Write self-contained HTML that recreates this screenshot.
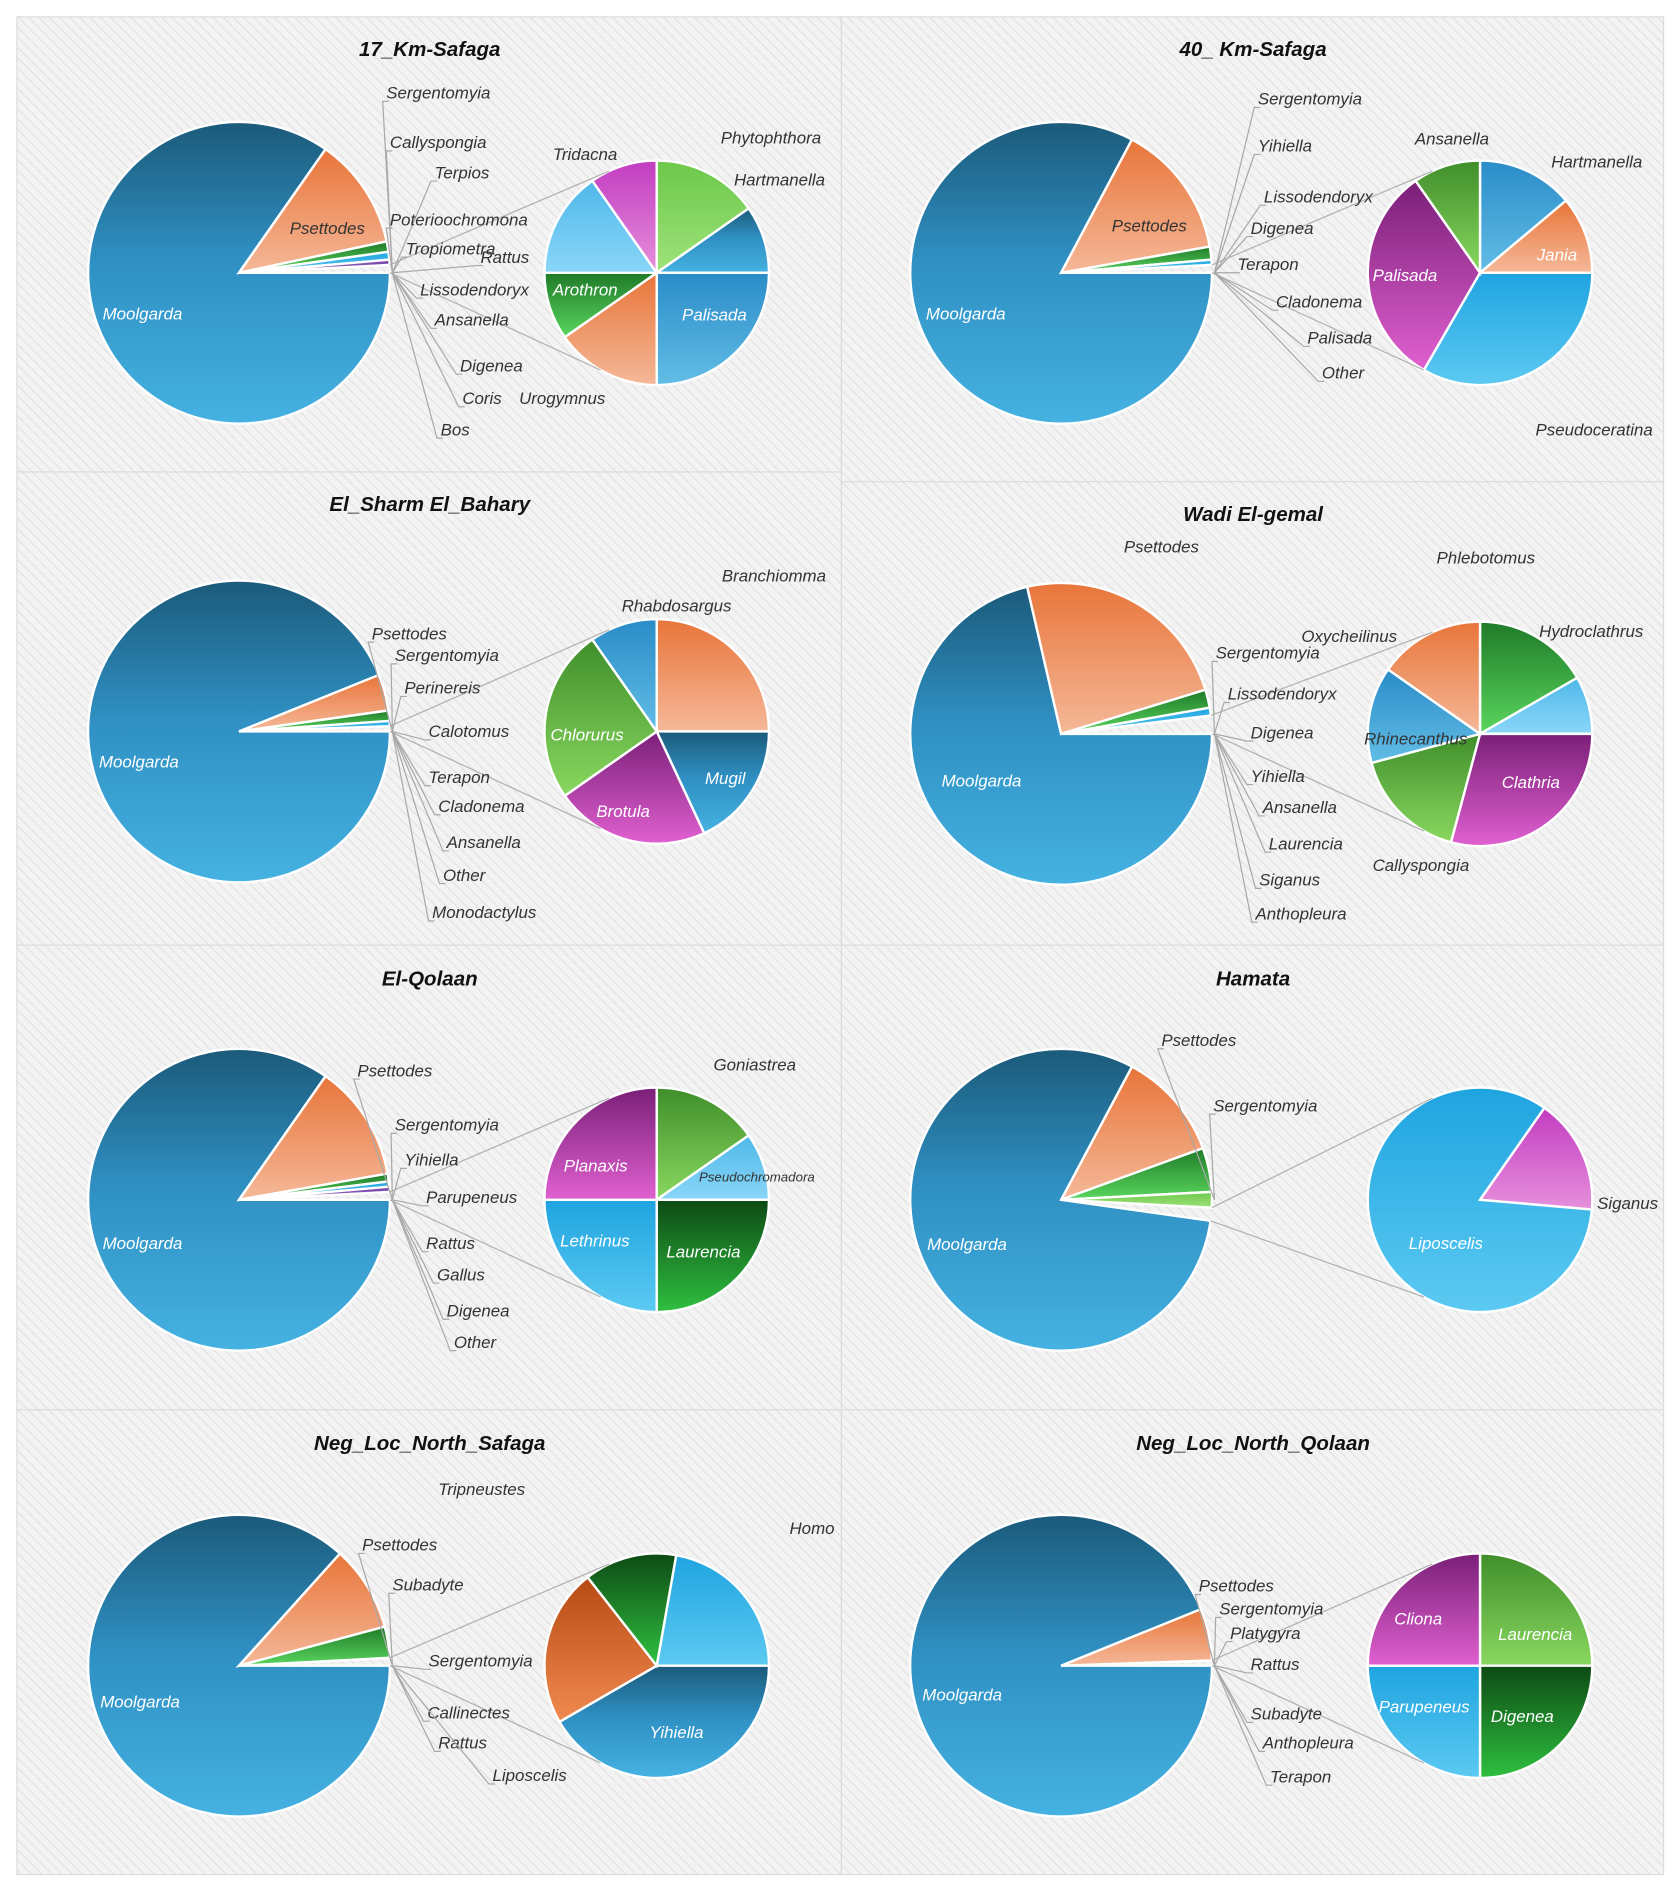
<!DOCTYPE html>
<html><head><meta charset="utf-8"><style>
html,body{margin:0;padding:0;background:#fff;}
svg{display:block;}
text{font-family:"Liberation Sans",sans-serif;font-style:italic;}
</style></head><body>
<svg id="chart" width="1678" height="1889" viewBox="0 0 1390 1565" preserveAspectRatio="none" xmlns="http://www.w3.org/2000/svg">
<defs>
<pattern id="hatch" width="6" height="6" patternUnits="userSpaceOnUse" patternTransform="rotate(-45)">
<rect width="6" height="6" fill="#f3f3f3"/><line x1="0" y1="0" x2="0" y2="6" stroke="#e2e2e2" stroke-width="2"/>
</pattern>
<linearGradient id="g-blue" x1="0" y1="0" x2="0" y2="1"><stop offset="0" stop-color="#1b5a7a"/><stop offset="0.45" stop-color="#2f8fc2"/><stop offset="1" stop-color="#45b2e2"/></linearGradient>
<linearGradient id="g-blue2" x1="0" y1="0" x2="0" y2="1"><stop offset="0" stop-color="#2a8cc8"/><stop offset="1" stop-color="#62bde6"/></linearGradient>
<linearGradient id="g-sky" x1="0" y1="0" x2="0" y2="1"><stop offset="0" stop-color="#1fa4e0"/><stop offset="1" stop-color="#5ccaf2"/></linearGradient>
<linearGradient id="g-light" x1="0" y1="0" x2="0" y2="1"><stop offset="0" stop-color="#4fb8ea"/><stop offset="1" stop-color="#8ad6f8"/></linearGradient>
<linearGradient id="g-salmon" x1="0" y1="0" x2="0" y2="1"><stop offset="0" stop-color="#e8753a"/><stop offset="1" stop-color="#f5b898"/></linearGradient>
<linearGradient id="g-orange" x1="0" y1="0" x2="0" y2="1"><stop offset="0" stop-color="#b84a14"/><stop offset="1" stop-color="#f08a50"/></linearGradient>
<linearGradient id="g-green" x1="0" y1="0" x2="0" y2="1"><stop offset="0" stop-color="#1f7a28"/><stop offset="1" stop-color="#5ad65e"/></linearGradient>
<linearGradient id="g-dgreen" x1="0" y1="0" x2="0" y2="1"><stop offset="0" stop-color="#0d4a14"/><stop offset="1" stop-color="#2fc040"/></linearGradient>
<linearGradient id="g-lgreen" x1="0" y1="0" x2="0" y2="1"><stop offset="0" stop-color="#3f8e2a"/><stop offset="1" stop-color="#8ad860"/></linearGradient>
<linearGradient id="g-mint" x1="0" y1="0" x2="0" y2="1"><stop offset="0" stop-color="#6cc84a"/><stop offset="1" stop-color="#9ee27a"/></linearGradient>
<linearGradient id="g-mag" x1="0" y1="0" x2="0" y2="1"><stop offset="0" stop-color="#7a1f78"/><stop offset="1" stop-color="#e060d0"/></linearGradient>
<linearGradient id="g-pink" x1="0" y1="0" x2="0" y2="1"><stop offset="0" stop-color="#c23cc0"/><stop offset="1" stop-color="#e690dc"/></linearGradient>
<linearGradient id="g-purple" x1="0" y1="0" x2="0" y2="1"><stop offset="0" stop-color="#7040a0"/><stop offset="1" stop-color="#a070d0"/></linearGradient>
</defs>
<rect x="0" y="0" width="1390" height="1565" fill="#fff"/>
<g id="panels"></g>
</svg>
<script>
// ---- data (values in degrees-equivalent shares) ----
const km17BigCats = ["Moolgarda","Psettodes","Sergentomyia","Callyspongia","Terpios","Other"];
const km17BigVals = [305,43,4,3,2,3];
const km17SecCats = ["Phytophthora","Hartmanella","Palisada","Urogymnus","Arothron","Poterioochromona","Tridacna"];
const km17SecVals = [55,35,90,55,35,55,35];

const km40BigCats = ["Moolgarda","Psettodes","Sergentomyia","Yihiella","Other"];
const km40BigVals = [298,52,5,2,3];
const km40SecCats = ["Hartmanella","Jania","Pseudoceratina","Palisada","Ansanella"];
const km40SecVals = [50,40,120,115,35];

const sharmBigCats = ["Moolgarda","Psettodes","Sergentomyia","Perinereis","Other"];
const sharmBigVals = [338,14,4,2,2];
const sharmSecCats = ["Branchiomma","Mugil","Brotula","Chlorurus","Rhabdosargus"];
const sharmSecVals = [90,65,80,90,35];

const wadiBigCats = ["Moolgarda","Psettodes","Sergentomyia","Lissodendoryx","Other"];
const wadiBigVals = [257,86,7,3,7];
const wadiSecCats = ["Phlebotomus","Hydroclathrus","Clathria","Callyspongia","Rhinecanthus","Oxycheilinus"];
const wadiSecVals = [60,30,105,60,50,55];

const qolBigCats = ["Moolgarda","Psettodes","Sergentomyia","Yihiella","Parupeneus","Other"];
const qolBigVals = [305,45,3,2,2,3];
const qolSecCats = ["Goniastrea","Pseudochromadora","Laurencia","Lethrinus","Planaxis"];
const qolSecVals = [55,35,90,90,90];

const hamBigCats = ["Psettodes","Sergentomyia","Other-green","Other","Moolgarda"];
const hamBigVals = [42,17,6,5,290];
const hamSecCats = ["Siganus","Liposcelis"];
const hamSecVals = [60,300];

const nsBigCats = ["Moolgarda","Psettodes","Subadyte","Other"];
const nsBigVals = [312,33,12,3];
const nsSecCats = ["Homo","Yihiella","Sergentomyia","Tripneustes"];
const nsSecVals = [80,150,82,48];

const nqBigCats = ["Moolgarda","Psettodes","Other"];
const nqBigVals = [338,20,2];
const nqSecCats = ["Laurencia","Digenea","Parupeneus","Cliona"];
const nqSecVals = [90,90,90,90];

// ---- panel layout ----
const panels = [
 {name:"17_Km-Safaga", x:14,y:14,w:683,h:377, tx:356,ty:42, big:[198,226,125], bigStart:0, bc:km17BigCats, bv:km17BigVals,
  bcol:["g-blue","g-salmon","g-green","g-sky","g-purple",null],
  sec:[544,226,93], secStart:-90, sc:km17SecCats, sv:km17SecVals, scol:["g-mint","g-blue","g-blue2","g-salmon","g-green","g-light","g-pink"],
  inner:[["Psettodes",240,190,"#333"],["Moolgarda",85,261,"#fff"],["Arothron",458,241,"#fff"],["Palisada",565,262,"#fff"]],
  outer:[["Sergentomyia",320,78],["Callyspongia",323,119],["Terpios",360,144],["Poterioochromona",323,183],["Tropiometra",336,207],["Rattus",398,214],["Lissodendoryx",348,241],["Ansanella",360,266],["Digenea",381,304],["Coris",383,331],["Bos",365,357]],
  free:[["Urogymnus",430,331],["Tridacna",458,129],["Phytophthora",597,115],["Hartmanella",608,150]]},
 {name:"40_ Km-Safaga", x:697,y:14,w:681,h:385, tx:1038,ty:42, big:[879,226,125], bigStart:0, bc:km40BigCats, bv:km40BigVals,
  bcol:["g-blue","g-salmon","g-green","g-sky",null],
  sec:[1226,226,93], secStart:-90, sc:km40SecCats, sv:km40SecVals, scol:["g-blue2","g-salmon","g-sky","g-mag","g-lgreen"],
  inner:[["Psettodes",921,188,"#333"],["Moolgarda",767,261,"#fff"],["Jania",1273,212,"#fff"],["Palisada",1137,229,"#fff"]],
  outer:[["Sergentomyia",1042,83],["Yihiella",1042,122],["Lissodendoryx",1047,164],["Digenea",1036,190],["Terapon",1025,220],["Cladonema",1057,251],["Palisada",1083,281],["Other",1095,310]],
  free:[["Ansanella",1172,116],["Hartmanella",1285,135],["Pseudoceratina",1272,357]]},
 {name:"El_Sharm El_Bahary", x:14,y:391,w:683,h:392, tx:356,ty:419, big:[198,606,125], bigStart:0, bc:sharmBigCats, bv:sharmBigVals,
  bcol:["g-blue","g-salmon","g-green","g-sky",null],
  sec:[544,606,93], secStart:-90, sc:sharmSecCats, sv:sharmSecVals, scol:["g-salmon","g-blue","g-mag","g-lgreen","g-blue2"],
  inner:[["Moolgarda",82,632,"#fff"],["Chlorurus",456,610,"#fff"],["Mugil",584,646,"#fff"],["Brotula",494,673,"#fff"]],
  outer:[["Psettodes",308,526],["Sergentomyia",327,544],["Perinereis",335,571],["Calotomus",355,607],["Terapon",355,645],["Cladonema",363,669],["Ansanella",370,699],["Other",367,726],["Monodactylus",358,757]],
  free:[["Rhabdosargus",515,503],["Branchiomma",598,478]]},
 {name:"Wadi El-gemal", x:697,y:399,w:681,h:384, tx:1038,ty:427, big:[879,608,125], bigStart:0, bc:wadiBigCats, bv:wadiBigVals,
  bcol:["g-blue","g-salmon","g-green","g-sky",null],
  sec:[1226,608,93], secStart:-90, sc:wadiSecCats, sv:wadiSecVals, scol:["g-green","g-light","g-mag","g-lgreen","g-blue2","g-salmon"],
  inner:[["Moolgarda",780,648,"#fff"],["Rhinecanthus",1130,613,"#333"],["Clathria",1244,649,"#fff"]],
  outer:[["Sergentomyia",1007,542],["Lissodendoryx",1017,576],["Digenea",1036,608],["Yihiella",1036,644],["Ansanella",1046,670],["Laurencia",1051,700],["Siganus",1043,730],["Anthopleura",1040,758]],
  free:[["Psettodes",931,454],["Oxycheilinus",1078,528],["Callyspongia",1137,718],["Phlebotomus",1190,463],["Hydroclathrus",1275,524]]},
 {name:"El-Qolaan", x:14,y:783,w:683,h:385, tx:356,ty:812, big:[198,994,125], bigStart:0, bc:qolBigCats, bv:qolBigVals,
  bcol:["g-blue","g-salmon","g-green","g-sky","g-purple",null],
  sec:[544,994,93], secStart:-90, sc:qolSecCats, sv:qolSecVals, scol:["g-lgreen","g-light","g-dgreen","g-sky","g-mag"],
  inner:[["Moolgarda",85,1031,"#fff"],["Planaxis",467,967,"#fff"],["Lethrinus",464,1029,"#fff"],["Laurencia",552,1038,"#fff"]],
  outer:[["Psettodes",296,888],["Sergentomyia",327,933],["Yihiella",335,962],["Parupeneus",353,993],["Rattus",353,1031],["Gallus",362,1057],["Digenea",370,1087],["Other",376,1113]],
  free:[["Goniastrea",591,883]]},
 {name:"Hamata", x:697,y:783,w:681,h:385, tx:1038,ty:812, big:[879,994,125], bigStart:-62, bc:hamBigCats, bv:hamBigVals,
  bcol:["g-salmon","g-green","g-mint",null,"g-blue"],
  sec:[1226,994,93], secStart:-55, sc:hamSecCats, sv:hamSecVals, scol:["g-pink","g-sky"],
  inner:[["Moolgarda",768,1032,"#fff"],["Liposcelis",1167,1031,"#fff"]],
  outer:[["Psettodes",962,863],["Sergentomyia",1005,917]],
  free:[["Siganus",1323,998]]},
 {name:"Neg_Loc_North_Safaga", x:14,y:1168,w:683,h:385, tx:356,ty:1197, big:[198,1380,125], bigStart:0, bc:nsBigCats, bv:nsBigVals,
  bcol:["g-blue","g-salmon","g-green",null],
  sec:[544,1380,93], secStart:-80, sc:nsSecCats, sv:nsSecVals, scol:["g-sky","g-blue","g-orange","g-dgreen"],
  inner:[["Moolgarda",83,1411,"#fff"],["Yihiella",538,1436,"#fff"]],
  outer:[["Psettodes",300,1281],["Subadyte",325,1314],["Sergentomyia",355,1377],["Callinectes",354,1420],["Rattus",363,1445],["Liposcelis",408,1472]],
  free:[["Tripneustes",363,1235],["Homo",654,1267]]},
 {name:"Neg_Loc_North_Qolaan", x:697,y:1168,w:681,h:385, tx:1038,ty:1197, big:[879,1380,125], bigStart:0, bc:nqBigCats, bv:nqBigVals,
  bcol:["g-blue","g-salmon",null],
  sec:[1226,1380,93], secStart:-90, sc:nqSecCats, sv:nqSecVals, scol:["g-lgreen","g-dgreen","g-sky","g-mag"],
  inner:[["Moolgarda",764,1405,"#fff"],["Cliona",1155,1342,"#fff"],["Laurencia",1241,1355,"#fff"],["Parupeneus",1142,1415,"#fff"],["Digenea",1235,1423,"#fff"]],
  outer:[["Psettodes",993,1315],["Sergentomyia",1010,1334],["Platygyra",1019,1354],["Rattus",1036,1380],["Subadyte",1036,1421],["Anthopleura",1046,1445],["Terapon",1052,1473]],
  free:[]}
];

const NS="http://www.w3.org/2000/svg";
const root=document.getElementById('panels');
function mk(tag,attrs,parent){const e=document.createElementNS(NS,tag);for(const k in attrs)e.setAttribute(k,attrs[k]);parent.appendChild(e);return e;}
function pt(cx,cy,r,deg){const a=deg*Math.PI/180;return [cx+r*Math.cos(a),cy+r*Math.sin(a)];}
function slicePath(cx,cy,r,a0,a1){const p0=pt(cx,cy,r,a0),p1=pt(cx,cy,r,a1);const large=(a1-a0)>180?1:0;
 return `M${cx},${cy} L${p0[0]},${p0[1]} A${r},${r} 0 ${large} 1 ${p1[0]},${p1[1]} Z`;}
function slug(s){return s.toLowerCase().replace(/[^a-z0-9]+/g,'-').replace(/^-|-$/g,'');}

panels.forEach((p,pi)=>{
 const g=mk('g',{},root);
 
 
 const bg=mk('rect',{x:p.x,y:p.y,width:p.w,height:p.h,fill:'url(#hatch)',stroke:'#dcdcdc','stroke-width':1},g);
 
 
 const t=mk('text',{x:p.tx,y:p.ty,'text-anchor':'middle','dominant-baseline':'middle','font-size':17,'font-weight':'bold',fill:'#111'},g);
 t.textContent=p.name;
 
 
 const [cx,cy,r]=p.big;const tot=p.bv.reduce((a,b)=>a+b,0);let a=p.bigStart;
 let otherA0=null,otherA1=null;
 p.bv.forEach((v,i)=>{const span=v/tot*360;const a1=a+span;
  if(p.bcol[i]){const s=mk('path',{d:slicePath(cx,cy,r,a,a1),fill:'url(#'+p.bcol[i]+')',stroke:'#fff','stroke-width':2},g);
   
   }
  else {otherA0=a;otherA1=a1;}
  a=a1;});
 const [sx,sy,sr]=p.sec;const stot=p.sv.reduce((a,b)=>a+b,0);let b=p.secStart;
 p.sv.forEach((v,i)=>{const span=v/stot*360;const b1=b+span;
  const s=mk('path',{d:slicePath(sx,sy,sr,b,b1),fill:'url(#'+p.scol[i]+')',stroke:'#fff','stroke-width':2},g);
  
  
  b=b1;});
 const e1=pt(cx,cy,r,otherA0==null?-2:otherA0), e2=pt(cx,cy,r,otherA1==null?2:otherA1);
 const s1=pt(sx,sy,sr,-115), s2=pt(sx,sy,sr,120);
 const c1=mk('line',{x1:e1[0],y1:e1[1],x2:s1[0],y2:s1[1],stroke:'#b0b0b0','stroke-width':1},g);
 
 
 const c2=mk('line',{x1:e2[0],y1:e2[1],x2:s2[0],y2:s2[1],stroke:'#b0b0b0','stroke-width':1},g);
 
 
 p.outer.forEach(l=>{
  const ln=mk('polyline',{points:`${cx+r+2},${cy} ${l[1]-3},${l[2]+6} ${l[1]+2},${l[2]+6}`,fill:'none',stroke:'#a8a8a8','stroke-width':1},g);
  
  
  const tx=mk('text',{x:l[1],y:l[2],'dominant-baseline':'middle','font-size':14,fill:'#333'},g);tx.textContent=l[0];
  
  });
 p.free.forEach(l=>{const tx=mk('text',{x:l[1],y:l[2],'dominant-baseline':'middle','font-size':14,fill:'#333'},g);tx.textContent=l[0];
  
  });
 p.inner.forEach(l=>{
  const tx=mk('text',{x:l[1],y:l[2],'dominant-baseline':'middle','font-size':14,fill:l[3]},g);tx.textContent=l[0];
  
  });
 if(p.name==="El-Qolaan"){const tx=mk('text',{x:579,y:976,'dominant-baseline':'middle','font-size':11,fill:'#333'},g);tx.textContent="Pseudochromadora";
  
  }
});
</script>
</body></html>
